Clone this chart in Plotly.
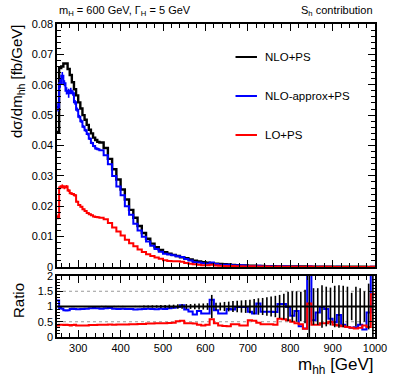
import plotly.graph_objects as go

# Binning : 5 GeV jusqu'a 350 GeV, puis 10 GeV jusqu'a 1000 GeV
bin_edges = list(range(250, 350, 5)) + list(range(350, 1001, 10))

# dsigma/dm_hh [fb/GeV]
nlo_ps = [
    0.0445, 0.0655, 0.0660, 0.0670, 0.0670, 0.0652, 0.0632, 0.0608, 0.0585, 0.0565,
    0.0542, 0.0522, 0.0500, 0.0485, 0.0468, 0.0452, 0.0440, 0.0426, 0.0418, 0.0412,
    0.0410, 0.0392, 0.0356, 0.0322, 0.0288, 0.0255, 0.0222, 0.0188, 0.0162, 0.0135,
    0.0112, 0.0093, 0.0077, 0.0065, 0.0056, 0.0049, 0.0044, 0.0040, 0.0036, 0.0032,
    0.0029, 0.0025, 0.0021, 0.0018, 0.0016, 0.0014, 0.0012, 0.0011, 0.0010, 0.0009,
    0.0008, 0.0007, 0.0006, 0.00055, 0.0005, 0.00045, 0.0004, 0.00036, 0.00033, 0.0003,
    0.00027, 0.00025, 0.00023, 0.00021, 0.00019, 0.00017, 0.00016, 0.00015, 0.00014, 0.00013,
    0.00012, 0.00011, 0.0001, 0.0001, 0.00009, 0.00009, 0.00008, 0.00008, 0.00007, 0.00007,
    0.00006, 0.00006, 0.00006, 0.00005, 0.00005,
]
nlo_approx_ps = [
    0.0527, 0.0605, 0.0630, 0.0605, 0.0580, 0.0572, 0.0580, 0.0572, 0.0542, 0.0518,
    0.0495, 0.0480, 0.0462, 0.0450, 0.0438, 0.0422, 0.0408, 0.0398, 0.0390, 0.0388,
    0.0384, 0.0368, 0.0338, 0.0300, 0.0265, 0.0236, 0.0200, 0.0172, 0.0142, 0.0120,
    0.0100, 0.0084, 0.0070, 0.0059, 0.0050, 0.0044, 0.0041, 0.0039, 0.0035, 0.0033,
    0.0026, 0.0021, 0.0016, 0.0015, 0.0012, 0.0011, 0.0015, 0.0010, 0.00077, 0.0007,
    0.0007, 0.0006, 0.0006, 0.00054, 0.00049, 0.00037, 0.00031, 0.0004, 0.00028, 0.00025,
    0.00022, 0.0002, 0.00025, 0.00023, 0.00019, 0.00011, 0.00014, 0.00005, 0.00004, 0.00028,
    0.00007, 0.00009, 0.0001, 0.00009, 0.00005, 0.00004, 0.00006, 0.00003, 0.00002, 0.00002,
    0.00002, 0.00002, 0.00002, 0.00004, 0.00011,
]
lo_ps = [
    0.0165, 0.0262, 0.0266, 0.0262, 0.0265, 0.0252, 0.0243, 0.0240, 0.0236, 0.0215,
    0.0204, 0.0198, 0.0190, 0.0184, 0.0178, 0.0174, 0.0170, 0.0166, 0.0165, 0.0164,
    0.0162, 0.0157, 0.0145, 0.0130, 0.0117, 0.0104, 0.0090, 0.0078, 0.0068, 0.0058,
    0.0049, 0.0042, 0.0036, 0.0031, 0.0027, 0.0022, 0.0020, 0.0019, 0.0019, 0.0017,
    0.0013, 0.0011, 0.0009, 0.0007, 0.0006, 0.00056, 0.0007, 0.0005, 0.00038, 0.00032,
    0.00028, 0.00029, 0.00025, 0.00021, 0.00019, 0.00025, 0.00021, 0.00017, 0.00014, 0.00013,
    0.00011, 0.0001, 0.00014, 0.00012, 0.0001, 0.00009, 0.00007, 0.00006, 0.00004, 0.00014,
    0.00005, 0.00004, 0.000045, 0.000045, 0.000045, 0.000036, 0.00003, 0.000028, 0.000023, 0.000021,
    0.000017, 0.000018, 0.000023, 0.000017, 0.00007,
]
# incertitudes visibles (premiers bins seulement, le reste est negligeable)
nlo_approx_err = [0.0015, 0.0015, 0.0012, 0.0010, 0.0012, 0.0015, 0.0010, 0.0008, 0.0008, 0.0007,
                  0.0006, 0.0006, 0.0005, 0.0005, 0.0005, 0.0004, 0.0004, 0.0004, 0.0004, 0.0004]
lo_err = [0.0008, 0.0006, 0.0006, 0.0006, 0.0005, 0.0005, 0.0004, 0.0004, 0.0004, 0.0003,
          0.0003, 0.0003, 0.0003, 0.0003, 0.0003, 0.0002, 0.0002, 0.0002, 0.0002, 0.0002]

# Panneau ratio (par rapport a NLO+PS)
ratio_approx = [
    1.20, 0.95, 0.93, 0.88, 0.87, 0.88, 0.92, 0.93, 0.92, 0.91,
    0.91, 0.92, 0.92, 0.93, 0.93, 0.94, 0.94, 0.95, 0.94, 0.94,
    0.93, 0.94, 0.95, 0.93, 0.92, 0.93, 0.92, 0.92, 0.90, 0.91,
    0.92, 0.93, 0.92, 0.91, 0.93, 0.92, 0.94, 0.96, 0.98, 1.04,
    0.90, 0.84, 0.74, 0.85, 0.77, 0.77, 1.22, 0.88, 0.77, 0.77,
    0.92, 0.90, 0.98, 0.98, 0.98, 0.83, 0.77, 1.10, 0.83, 0.83,
    0.83, 0.82, 1.08, 1.08, 0.98, 0.70, 0.85, 0.35, 0.28, 2.20,
    0.55, 0.80, 0.98, 0.92, 0.60, 0.48, 0.72, 0.40, 0.33, 0.30,
    0.32, 0.40, 0.25, 0.80, 2.20,
]
ratio_lo = [
    0.38, 0.40, 0.40, 0.39, 0.40, 0.39, 0.38, 0.39, 0.40, 0.38,
    0.38, 0.38, 0.38, 0.38, 0.38, 0.39, 0.39, 0.39, 0.39, 0.40,
    0.40, 0.40, 0.41, 0.40, 0.41, 0.41, 0.41, 0.42, 0.42, 0.43,
    0.43, 0.44, 0.44, 0.45, 0.45, 0.45, 0.46, 0.47, 0.52, 0.53,
    0.45, 0.45, 0.44, 0.40, 0.38, 0.40, 0.58, 0.45, 0.38, 0.36,
    0.35, 0.42, 0.42, 0.38, 0.38, 0.55, 0.53, 0.47, 0.42, 0.42,
    0.42, 0.40, 0.60, 0.58, 0.55, 0.50, 0.45, 0.42, 0.27, 1.10,
    0.40, 0.40, 0.45, 0.45, 0.50, 0.40, 0.38, 0.35, 0.33, 0.30,
    0.28, 0.30, 0.38, 0.33, 1.40,
]
ratio_nlo_err = [
    0.01, 0.01, 0.01, 0.01, 0.01, 0.01, 0.01, 0.01, 0.01, 0.01,
    0.01, 0.01, 0.01, 0.01, 0.01, 0.01, 0.01, 0.01, 0.01, 0.01,
    0.02, 0.02, 0.02, 0.02, 0.02, 0.02, 0.02, 0.02, 0.02, 0.02,
    0.03, 0.03, 0.04, 0.04, 0.05, 0.05, 0.06, 0.06, 0.07, 0.07,
    0.08, 0.08, 0.09, 0.10, 0.10, 0.11, 0.38, 0.12, 0.13, 0.15,
    0.16, 0.18, 0.19, 0.20, 0.21, 0.22, 0.25, 0.27, 0.28, 0.30,
    0.33, 0.35, 0.38, 0.42, 0.48, 0.50, 0.50, 0.48, 0.55, 1.20,
    0.60, 0.60, 0.70, 0.65, 0.62, 0.68, 0.70, 0.68, 0.65, 0.45,
    0.65, 0.60, 0.50, 0.75, 1.20,
]

FONT = "Liberation Sans, Arial, sans-serif"
W, H = 399, 383
L, R, T, B = 57, 16, 24, 46


def fx(px):
    # position en pixels -> coordonnees "paper"
    return (px - L) / (W - L - R)


def fy(py):
    return (H - B - py) / (H - T - B)


centres = [(a + b) / 2 for a, b in zip(bin_edges[:-1], bin_edges[1:])]


def step_trace(values, color, width, xa, ya):
    return go.Scatter(
        x=bin_edges, y=list(values) + [values[-1]], mode="lines",
        line=dict(color=color, width=width, shape="hv"),
        xaxis=xa, yaxis=ya, showlegend=False, hoverinfo="skip",
    )


def err_trace(values, errors, color, xa, ya):
    n = len(errors)
    return go.Scatter(
        x=centres[:n], y=list(values)[:n], mode="markers",
        marker=dict(size=1, color="rgba(0,0,0,0)"),
        error_y=dict(type="data", array=errors, color=color, thickness=1.6, width=0),
        xaxis=xa, yaxis=ya, showlegend=False, hoverinfo="skip",
    )


ratio_nlo = [v / v for v in nlo_ps]

fig = go.Figure()
# panneau principal
fig.add_trace(step_trace(nlo_ps, "black", 2.4, "x", "y"))
fig.add_trace(step_trace(nlo_approx_ps, "#0000ff", 2, "x", "y"))
fig.add_trace(err_trace(nlo_approx_ps, nlo_approx_err, "#0000ff", "x", "y"))
fig.add_trace(step_trace(lo_ps, "#ff0000", 2, "x", "y"))
fig.add_trace(err_trace(lo_ps, lo_err, "#ff0000", "x", "y"))
# panneau ratio
fig.add_trace(step_trace(ratio_approx, "#0000ff", 2, "x2", "y2"))
fig.add_trace(step_trace(ratio_lo, "#ff0000", 2, "x2", "y2"))
fig.add_trace(step_trace(ratio_nlo, "black", 2, "x2", "y2"))
fig.add_trace(err_trace(ratio_nlo, ratio_nlo_err, "black", "x2", "y2"))

axis_common = dict(
    showline=True, linecolor="black", linewidth=1.5, mirror="allticks",
    ticks="inside", tickcolor="black", showgrid=False, zeroline=False,
    tickfont=dict(family=FONT, size=11, color="black"),
)
fig.update_layout(
    width=W, height=H,
    margin=dict(l=L, r=R, t=T, b=B),
    paper_bgcolor="white", plot_bgcolor="white",
    font=dict(family=FONT, color="black"),
    xaxis=dict(axis_common, domain=[0, 1], range=[250, 1000], anchor="y",
               showticklabels=False, dtick=100, ticklen=7,
               minor=dict(ticks="inside", dtick=20, ticklen=4, tickcolor="black")),
    yaxis=dict(axis_common, domain=[fy(267), 1], range=[0, 0.08], anchor="x",
               dtick=0.01, ticklen=7,
               minor=dict(ticks="inside", dtick=0.002, ticklen=4, tickcolor="black")),
    xaxis2=dict(axis_common, domain=[0, 1], range=[250, 1000], anchor="y2",
                matches="x", dtick=100, ticklen=7,
                minor=dict(ticks="inside", dtick=20, ticklen=4, tickcolor="black")),
    yaxis2=dict(axis_common, domain=[0, fy(276)], range=[0, 2], anchor="x2",
                dtick=0.5, ticklen=6,
                minor=dict(ticks="inside", dtick=0.1, ticklen=3, tickcolor="black")),
)

# lignes pointillees du ratio
for level in [0.5, 1.5]:
    fig.add_shape(type="line", xref="x2 domain", yref="y2", x0=0, x1=1, y0=level, y1=level,
                  line=dict(color="#999999", width=1, dash="dot"), layer="below")

# legende dessinee a la main
legend_items = [("NLO+PS", "black", 57), ("NLO-approx+PS", "#0000ff", 96), ("LO+PS", "#ff0000", 135)]
for label, color, ypix in legend_items:
    fig.add_shape(type="line", xref="paper", yref="paper", x0=fx(240), x1=fx(262),
                  y0=fy(ypix), y1=fy(ypix), line=dict(color=color, width=2))
    fig.add_annotation(x=fx(268), y=fy(ypix), xref="paper", yref="paper", text=label,
                       showarrow=False, xanchor="left", yanchor="middle",
                       font=dict(family=FONT, size=11.5, color="black"))

texts = [
    dict(x=fx(57), y=fy(11), text="m<sub>H</sub> = 600 GeV, Γ<sub>H</sub> = 5 GeV",
         xanchor="left", yanchor="middle", font=dict(family=FONT, size=11, color="black")),
    dict(x=fx(383), y=fy(11), text="S<sub>h</sub> contribution",
         xanchor="right", yanchor="middle", font=dict(family=FONT, size=11, color="black")),
    dict(x=fx(17), y=fy(22), text="dσ/dm<sub>hh</sub> [fb/GeV]", textangle=-90,
         xanchor="center", yanchor="top", font=dict(family=FONT, size=15, color="black")),
    dict(x=fx(17), y=fy(300), text="Ratio", textangle=-90,
         xanchor="center", yanchor="middle", font=dict(family=FONT, size=15, color="black")),
    dict(x=fx(384), y=fy(366), text="m<sub>hh</sub> [GeV]",
         xanchor="right", yanchor="middle", font=dict(family=FONT, size=17, color="black")),
]
for t in texts:
    fig.add_annotation(xref="paper", yref="paper", showarrow=False, **t)

# on retire la marge par defaut du <body> pour que la figure commence en (0, 0)
fig.write_html("out.html", config={"displayModeBar": False},
               post_script="document.body.style.margin = '0';")
